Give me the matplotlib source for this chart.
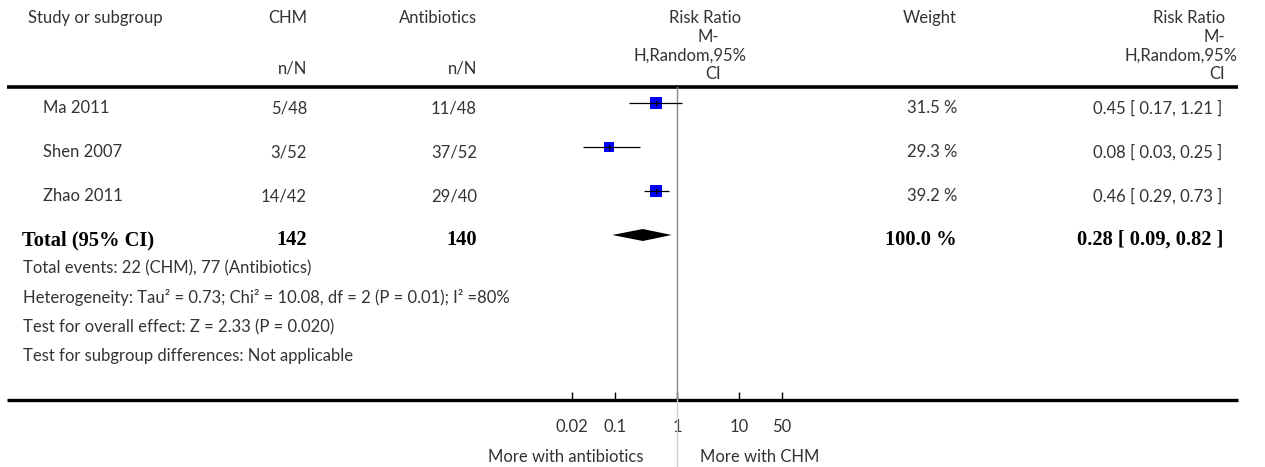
import numpy as np
import matplotlib
matplotlib.use("Agg")
import matplotlib.pyplot as plt
from matplotlib.ticker import NullLocator

# study data
studies = ["Ma 2011", "Shen 2007", "Zhao 2011"]
chm_events = [5, 3, 14]
chm_total = [48, 52, 42]
abx_events = [11, 37, 29]
abx_total = [48, 52, 40]
weights = [31.5, 29.3, 39.2]
rr = [0.45, 0.08, 0.46]
ci_low = [0.17, 0.03, 0.29]
ci_high = [1.21, 0.25, 0.73]

# pooled result
total_chm = 142
total_abx = 140
total_rr = 0.28
total_low = 0.09
total_high = 0.82

ticks = [0.02, 0.1, 1, 10, 50]
tick_labels = ["0.02", "0.1", "1", "10", "50"]

footnotes = [
    "Total events: 22 (CHM), 77 (Antibiotics)",
    "Heterogeneity: Tau\u00b2 = 0.73; Chi\u00b2 = 10.08, df = 2 (P = 0.01); I\u00b2 =80%",
    "Test for overall effect: Z = 2.33 (P = 0.020)",
    "Test for subgroup differences: Not applicable",
]

W, H = 1265, 467
TXT = "#333333"
SANS = ["Lato", "DejaVu Sans"]
SERIF = ["Liberation Serif", "DejaVu Serif"]
FS = 12

fig = plt.figure(figsize=(W / 100, H / 100), dpi=100)

# table layer in pixel coordinates
tab = fig.add_axes([0, 0, 1, 1])
tab.set_xlim(0, W)
tab.set_ylim(H, 0)
tab.axis("off")


def t(x, y, s, ha="left", bold=False, size=FS):
    if bold:
        tab.text(x, y, s, ha=ha, va="center", fontsize=14.8, family=SERIF,
                 fontweight="bold", color="black")
    else:
        tab.text(x, y, s, ha=ha, va="center", fontsize=size, family=SANS, color=TXT)


# header
t(28, 18, "Study or subgroup")
t(307, 18, "CHM", ha="right")
t(307, 68, "n/N", ha="right")
t(477, 18, "Antibiotics", ha="right")
t(477, 68, "n/N", ha="right")
t(705, 18, "Risk Ratio", ha="center")
t(708, 37, "M-", ha="center")
t(690, 56, "H,Random,95%", ha="center")
t(713, 74, "CI", ha="center")
t(957, 18, "Weight", ha="right")
t(1225, 18, "Risk Ratio", ha="right")
t(1225, 37, "M-", ha="right")
t(1238, 56, "H,Random,95%", ha="right")
t(1225, 74, "CI", ha="right")

tab.plot([7, 1238], [87, 87], color="black", lw=2.6, solid_capstyle="butt")
tab.plot([7, 1238], [400, 400], color="black", lw=2.4, solid_capstyle="butt")

# study rows
row0, step = 103, 44
for i, name in enumerate(studies):
    y = row0 + step * i + 5
    t(43, y, name)
    t(307, y, f"{chm_events[i]}/{chm_total[i]}", ha="right")
    t(477, y, f"{abx_events[i]}/{abx_total[i]}", ha="right")
    t(957, y, f"{weights[i]:.1f} %", ha="right")
    t(1222, y, f"{rr[i]:.2f} [ {ci_low[i]:.2f}, {ci_high[i]:.2f} ]", ha="right")

ty = row0 + step * 3 + 5
t(22, ty, "Total (95% CI)", bold=True)
t(307, ty, str(total_chm), ha="right", bold=True)
t(477, ty, str(total_abx), ha="right", bold=True)
t(957, ty, f"{sum(weights):.1f} %", ha="right", bold=True)
t(1223, ty, f"{total_rr:.2f} [ {total_low:.2f}, {total_high:.2f} ]", ha="right", bold=True)

for k, line in enumerate(footnotes):
    t(23, 268 + 29.5 * k, line)

t(643, 457, "More with antibiotics", ha="right")
t(760, 457, "More with CHM", ha="center")

# forest plot panel
x0, x1, ytop, ybot = 510, 844, 87, 400
ax = fig.add_axes([x0 / W, (H - ybot) / H, (x1 - x0) / W, (ybot - ytop) / H])
ax.patch.set_visible(False)
ax.set_xscale("log")
ax.set_xlim(0.002, 500)
ax.set_ylim((ybot - row0) / step, (ytop - row0) / step)
for sp in ax.spines.values():
    sp.set_visible(False)
ax.set_yticks([])
ax.set_xticks(ticks)
ax.set_xticklabels(tick_labels, family=SANS, fontsize=FS, color=TXT)
ax.xaxis.set_minor_locator(NullLocator())
ax.tick_params(axis="x", direction="in", length=6, width=1, pad=14, color="black")

ax.axvline(1, color="#8a8a8a", lw=1)
ax.axvline(1, ymin=-(H - ybot) / (ybot - ytop), ymax=0, clip_on=False, color="#d0d0d0", lw=1)

rows = np.arange(len(studies))
sizes = 1.44 * np.sqrt(weights)
for i in rows:
    ax.plot(rr[i], i, marker="s", ms=sizes[i], color="#0000ff", mec="#0000ff", mew=0)
ax.hlines(rows, ci_low, ci_high, color="black", lw=0.9)
ax.plot(rr, rows, "|", ms=4, color="black", mew=0.9)

h = 6 / step
ax.fill([total_low, total_rr, total_high, total_rr], [3, 3 - h, 3, 3 + h], color="black", lw=0)

fig.savefig("out.png", dpi=100)
